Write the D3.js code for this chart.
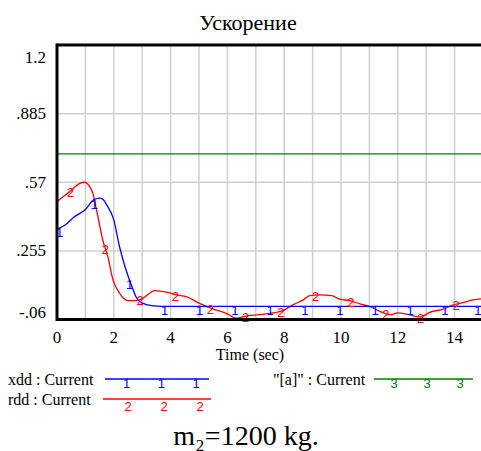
<!DOCTYPE html>
<html><head><meta charset="utf-8">
<script src="https://cdn.jsdelivr.net/npm/d3@7"></script>
<style>
html,body{margin:0;padding:0;background:#fff;}
svg{display:block;}
</style></head>
<body>
<script>
// ---- data ----
const title = "Ускорение";
const subtitle = "m₂=1200 kg.";
const xLabel = "Time (sec)";
const xTicks = [0, 2, 4, 6, 8, 10, 12, 14];
const yTicks = [-0.06, 0.255, 0.57, 0.885, 1.2];
const yTickLabels = ["-.06", ".255", ".57", ".885", "1.2"];

const xddTime = [0, 0.3, 0.6, 1.0, 1.3, 1.5, 1.6, 1.75, 2.0, 2.2, 2.4, 2.6, 2.8, 3.0, 3.4, 4.0, 15];
const xddVals = [0.355, 0.375, 0.41, 0.445, 0.49, 0.497, 0.494, 0.466, 0.397, 0.275, 0.18, 0.105, 0.04, 0.015, 0.003, 0.0, 0.0];

const rddTime = [0, 0.45, 0.8, 0.97, 1.15, 1.26, 1.44, 1.61, 1.79, 1.97, 2.2, 2.5, 2.8, 3.03, 3.44, 3.9, 4.2, 4.56, 5.0, 5.5, 6.0, 6.3, 6.7, 7.1, 7.6, 7.96, 8.3, 8.67, 8.9, 9.26, 9.67, 9.96, 10.3, 10.67, 11.0, 11.37, 11.72, 12.0, 12.4, 12.8, 13.1, 13.6, 13.96, 14.3, 14.66, 15];
const rddVals = [0.481, 0.527, 0.565, 0.57, 0.55, 0.52, 0.412, 0.305, 0.229, 0.122, 0.061, 0.027, 0.027, 0.038, 0.073, 0.064, 0.053, 0.045, 0.015, -0.012, -0.034, -0.054, -0.043, -0.038, -0.03, -0.019, 0.007, 0.03, 0.05, 0.053, 0.05, 0.033, 0.027, 0.012, 0.0, -0.023, -0.038, -0.03, -0.038, -0.049, -0.028, -0.012, 0.007, 0.018, 0.03, 0.035];

const aTime = [0, 15];
const aVals = [0.7, 0.7];

const xddMarkT = [0.09, 1.32, 2.56, 3.79, 5.02, 6.26, 7.5, 8.73, 9.96, 11.2, 12.43, 13.66, 14.82];
const rddMarkT = [0.47, 1.7, 2.93, 4.17, 5.4, 6.64, 7.88, 9.11, 10.35, 11.58, 12.8, 14.05];

const legendItems = [
  {label: "xdd : Current", color: "#0000ff", mark: "1", col: 0, row: 0},
  {label: "rdd : Current", color: "#ff0000", mark: "2", col: 0, row: 1},
  {label: "\"[a]\" : Current", color: "#008000", mark: "3", col: 1, row: 0}
];

// ---- drawing ----
const SERIF = "'Liberation Serif', 'Times New Roman', 'DejaVu Serif', serif";
const SANS = "'Liberation Sans', Arial, 'DejaVu Sans', sans-serif";
const W = 481, H = 451;
const svg = d3.select("body").append("svg").attr("width", W).attr("height", H)
  .attr("font-family", SERIF);
const x = d3.scaleLinear().domain([0, 15]).range([57, 483]);
const y = d3.scaleLinear().domain([-0.06, 1.2]).range([319.5, 45]);

// gridlines
const g = svg.append("g");
g.selectAll(".vg").data(d3.range(1, 15)).enter().append("line")
  .attr("x1", d => x(d)).attr("x2", d => x(d)).attr("y1", y(1.2)).attr("y2", y(-0.06))
  .attr("stroke", "#cfcfcf").attr("stroke-width", 1.5);
g.selectAll(".hg").data(yTicks.slice(1, -1)).enter().append("line")
  .attr("x1", x(0)).attr("x2", W).attr("y1", d => y(d)).attr("y2", d => y(d))
  .attr("stroke", "#cfcfcf").attr("stroke-width", 1.5);

svg.append("clipPath").attr("id", "clip").append("rect")
  .attr("x", x(0)).attr("y", y(1.2)).attr("width", W - x(0)).attr("height", y(-0.06) - y(1.2));

const line = d3.line().x(d => x(d[0])).y(d => y(d[1])).curve(d3.curveMonotoneX);
const plot = svg.append("g").attr("clip-path", "url(#clip)");
const series = [
  {t: aTime, v: aVals, color: "#008000"},
  {t: rddTime, v: rddVals, color: "#ff0000"},
  {t: xddTime, v: xddVals, color: "#0000ff"}
];
series.forEach(s => {
  plot.append("path").datum(s.t.map((t, i) => [t, s.v[i]]))
    .attr("fill", "none").attr("stroke", s.color).attr("stroke-width", 1.3)
    .attr("d", line);
});

function valAt(ts, vs, t) {
  const i = Math.max(1, Math.min(ts.length - 1, d3.bisectLeft(ts, t)));
  const f = (t - ts[i - 1]) / (ts[i] - ts[i - 1]);
  return vs[i - 1] + f * (vs[i] - vs[i - 1]);
}
function markers(ts, vs, mt, ch, color, dy) {
  svg.append("g").selectAll("text").data(mt).enter().append("text")
    .attr("font-family", SANS)
    .attr("x", d => x(d)).attr("y", d => y(valAt(ts, vs, d)) + dy)
    .attr("text-anchor", "middle").attr("font-size", 13).attr("fill", color)
    .text(ch);
}
markers(xddTime, xddVals, xddMarkT, "1", "#0000ff", 9);
markers(rddTime, rddVals, rddMarkT, "2", "#ff0000", 6);

// frame
svg.append("line").attr("x1", x(0)).attr("x2", x(0)).attr("y1", y(1.2) - 1.5).attr("y2", y(-0.06) + 1.5)
  .attr("stroke", "#000").attr("stroke-width", 3);
svg.append("line").attr("x1", x(0)).attr("x2", W).attr("y1", y(1.2)).attr("y2", y(1.2))
  .attr("stroke", "#000").attr("stroke-width", 3);
svg.append("line").attr("x1", x(0)).attr("x2", W).attr("y1", y(-0.06)).attr("y2", y(-0.06))
  .attr("stroke", "#000").attr("stroke-width", 3);

// axes labels
const yLabOff = [-7, 0, 0, 0, 12];
svg.append("g").selectAll("text").data(yTicks).enter().append("text")
  .attr("x", 46).attr("y", (d, i) => y(d) + yLabOff[i] + 5.5).attr("text-anchor", "end").attr("font-size", 17)
  .text((d, i) => yTickLabels[i]);
svg.append("g").selectAll("text").data(xTicks).enter().append("text")
  .attr("x", d => x(d)).attr("y", 343).attr("text-anchor", "middle").attr("font-size", 17)
  .text(d => d);
svg.append("text").attr("x", 250).attr("y", 360).attr("text-anchor", "middle").attr("font-size", 16).text(xLabel);
svg.append("text").attr("x", 248).attr("y", 30).attr("text-anchor", "middle").attr("font-size", 22).text(title);
svg.append("text").attr("x", 246).attr("y", 445).attr("text-anchor", "middle").attr("font-size", 28).text(subtitle);

// legend
const lg = svg.append("g");
legendItems.forEach(it => {
  const tx = it.col === 0 ? 8 : 273;
  const lx0 = it.col === 0 ? (it.row === 0 ? 105 : 103) : 374;
  const lx1 = it.col === 0 ? (it.row === 0 ? 209 : 211) : 473;
  const ly = it.row === 0 ? 379 : 399;
  lg.append("text").attr("x", tx).attr("y", ly + 6).attr("font-size", 16).text(it.label);
  lg.append("line").attr("x1", lx0).attr("x2", lx1).attr("y1", ly).attr("y2", ly)
    .attr("stroke", it.color).attr("stroke-width", 1.3);
  const step = (lx1 - lx0) / 3;
  [1, 2, 3].forEach(k => {
    lg.append("text").attr("font-family", SANS).attr("x", lx0 + step * k - 13 + (it.mark === "2" ? 2 : 0))
      .attr("y", ly + (it.mark === "2" ? 12 : 9)).attr("text-anchor", "middle")
      .attr("font-size", 13).attr("fill", it.color).text(it.mark);
  });
});
</script>
</body></html>
